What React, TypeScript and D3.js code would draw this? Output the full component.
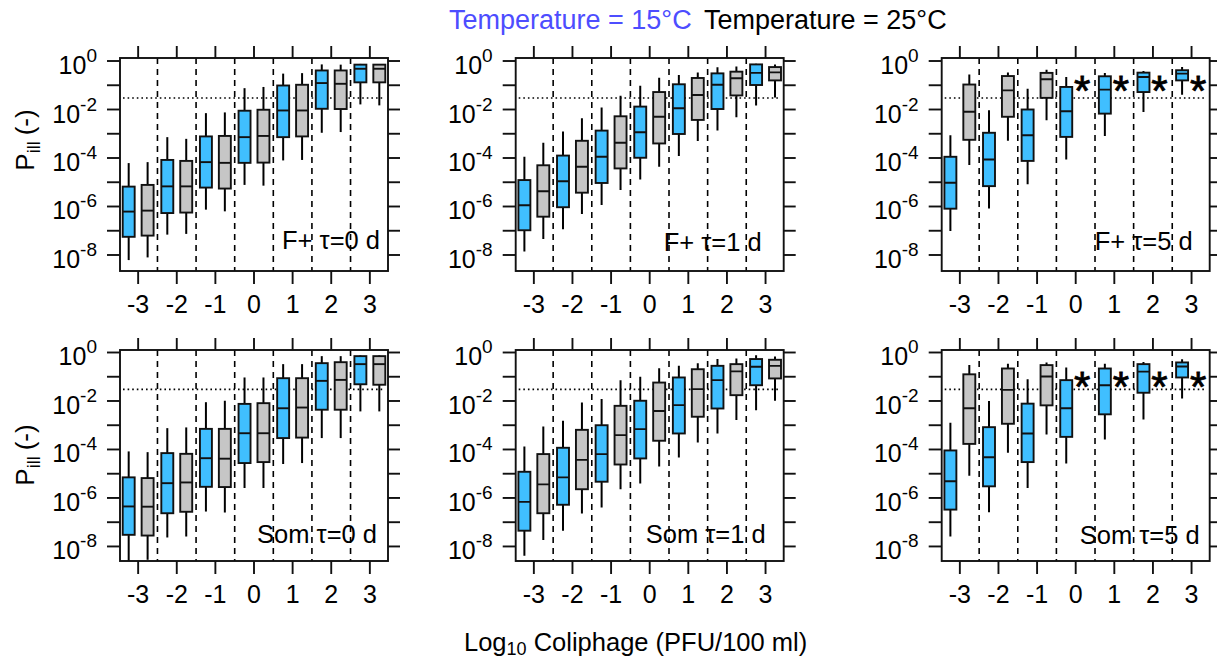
import React from "react";
import * as d3 from "d3";

// ---------------- DATA ----------------
const categories = [-3, -2, -1, 0, 1, 2, 3];
const headerLabels = ["Temperature = 15°C", "Temperature = 25°C"];
const panelTitles = ["F+ τ=0 d", "F+ τ=1 d", "F+ τ=5 d", "Som τ=0 d", "Som τ=1 d", "Som τ=5 d"];
const yTickExps = [0, -1, -2, -3, -4, -5, -6, -7, -8];
const yLabelExps = [0, -2, -4, -6, -8];
const riskThreshold = 0.03;

// Box stats per category (log10): [low whisker, Q1, median, Q3, high whisker]
const fp0_15 = [
  [-8.21, -7.25, -6.21, -5.18, -4.21], [-7.16, -6.27, -5.17, -4.08, -3.14], [-6.13, -5.22, -4.17, -3.11, -2.15],
  [-5.11, -4.2, -3.14, -2.05, -1.12], [-4.1, -3.14, -2.04, -1.01, -0.52], [-2.96, -1.97, -0.91, -0.39, -0.14],
  [-1.79, -0.88, -0.32, -0.15, -0.12],
];
const fp0_25 = [
  [-8.1, -7.2, -6.17, -5.11, -4.17], [-7.13, -6.25, -5.17, -4.12, -3.21], [-6.2, -5.26, -4.2, -3.09, -2.12],
  [-5.14, -4.19, -3.09, -2.01, -1.07], [-4.08, -3.11, -2.04, -0.98, -0.5], [-2.93, -1.98, -0.94, -0.39, -0.15],
  [-1.83, -0.88, -0.32, -0.15, -0.13],
];
const fp1_15 = [
  [-7.86, -6.98, -5.95, -4.91, -3.95], [-6.94, -6.03, -4.96, -3.9, -2.91], [-5.94, -5.03, -3.95, -2.87, -1.92],
  [-4.89, -3.99, -2.94, -1.88, -1.02], [-3.92, -3.01, -1.95, -0.96, -0.58], [-2.87, -1.98, -0.98, -0.51, -0.26],
  [-1.83, -0.99, -0.49, -0.14, -0.11],
];
const fp1_25 = [
  [-7.34, -6.42, -5.37, -4.3, -3.37], [-6.31, -5.43, -4.36, -3.29, -2.36], [-5.32, -4.43, -3.37, -2.28, -1.43],
  [-4.36, -3.4, -2.3, -1.28, -0.69], [-3.3, -2.43, -1.4, -0.7, -0.47], [-2.32, -1.42, -0.71, -0.44, -0.23],
  [-1.5, -0.8, -0.47, -0.25, -0.14],
];
const fp5_15 = [
  [-7.01, -6.09, -5.02, -3.95, -3.06], [-6.08, -5.16, -4.06, -2.96, -2.03], [-5.08, -4.12, -3.06, -2.0, -1.14],
  [-4.06, -3.13, -2.07, -1.07, -0.66], [-3.09, -2.17, -1.18, -0.63, -0.49], [-2.1, -1.28, -0.66, -0.48, -0.41],
  [-1.39, -0.8, -0.52, -0.38, -0.25],
];
const fp5_25 = [
  [-4.29, -3.25, -2.09, -0.97, -0.56], [-3.29, -2.3, -1.21, -0.62, -0.47], [-2.44, -1.52, -0.75, -0.49, -0.36],
  null, null, null, null,
];
const som0_15 = [
  [-8.9, -7.52, -6.35, -5.15, -4.08], [-7.63, -6.63, -5.39, -4.15, -3.12], [-6.56, -5.54, -4.36, -3.15, -2.05],
  [-5.59, -4.56, -3.33, -2.12, -1.03], [-4.6, -3.53, -2.3, -1.06, -0.48], [-3.53, -2.36, -1.17, -0.44, -0.15],
  [-2.43, -1.31, -0.48, -0.15, -0.12],
];
const som0_25 = [
  [-8.55, -7.55, -6.36, -5.18, -4.11], [-7.59, -6.57, -5.36, -4.18, -3.09], [-6.6, -5.55, -4.38, -3.15, -1.99],
  [-5.59, -4.52, -3.33, -2.09, -1.03], [-4.56, -3.51, -2.27, -1.06, -0.48], [-3.53, -2.36, -1.13, -0.4, -0.15],
  [-2.43, -1.33, -0.48, -0.15, -0.12],
];
const som1_15 = [
  [-8.38, -7.35, -6.16, -4.92, -3.88], [-7.35, -6.28, -5.15, -3.93, -2.82], [-6.39, -5.33, -4.19, -3.0, -1.92],
  [-5.4, -4.37, -3.16, -1.99, -1.0], [-4.33, -3.34, -2.17, -1.03, -0.55], [-3.34, -2.31, -1.14, -0.55, -0.27],
  [-2.38, -1.35, -0.59, -0.27, -0.11],
];
const som1_25 = [
  [-7.73, -6.63, -5.44, -4.19, -3.05], [-6.64, -5.64, -4.43, -3.19, -2.06], [-5.64, -4.62, -3.41, -2.2, -1.14],
  [-4.7, -3.64, -2.41, -1.24, -0.65], [-3.71, -2.65, -1.51, -0.69, -0.44], [-2.78, -1.76, -0.78, -0.48, -0.25],
  [-1.99, -1.07, -0.55, -0.3, -0.16],
];
const som5_15 = [
  [-7.59, -6.48, -5.31, -4.04, -2.9], [-6.59, -5.52, -4.32, -3.08, -2.0], [-5.59, -4.52, -3.34, -2.11, -1.1],
  [-4.58, -3.48, -2.3, -1.14, -0.62], [-3.59, -2.55, -1.35, -0.66, -0.46], [-2.76, -1.66, -0.79, -0.48, -0.39],
  [-1.9, -1.03, -0.58, -0.41, -0.28],
];
const som5_25 = [
  [-5.08, -3.77, -2.3, -0.9, -0.52], [-4.14, -2.94, -1.54, -0.66, -0.46], [-3.38, -2.18, -0.99, -0.52, -0.41],
  null, null, null, null,
];
// "*" marks where the 25°C box is absent (log10 level)
const starLevels = [null, null, -0.82, null, null, -1.02];

const panelSeries15 = [fp0_15, fp1_15, fp5_15, som0_15, som1_15, som5_15];
const panelSeries25 = [fp0_25, fp1_25, fp5_25, som0_25, som1_25, som5_25];

// ---------------- LAYOUT ----------------
const W = 1217;
const H = 661;
const colX = [120, 515.7, 941.7];
const panelW = 268;
const rowY = [58, 350];
const rowH = [213, 211];
const rowDomainExp = [
  [-8.66, 0.124],
  [-8.6, 0.103],
];
const titleEndOffset = [8, 22, 17, 11, 18, 10];
const titleBaseOffset = [22.5, 20.5, 21, 17.7, 17.7, 17];
const yTitleCenter = [140, 455];
const FONT = "'Liberation Sans', Arial, Helvetica, sans-serif";
const BLUE = "#40bfff";
const GRAY = "#c6c6c6";
const HEADER_BLUE = "#4d4dff";
const TICK = 12;

function Panel({ idx }: { idx: number }) {
  const col = idx % 3;
  const row = Math.floor(idx / 3);
  const x0 = colX[col];
  const x1 = x0 + panelW;
  const y0 = rowY[row];
  const y1 = y0 + rowH[row];
  const x = d3.scaleLinear().domain([-3.47, 3.47]).range([x0, x1]);
  const y = d3
    .scaleLog()
    .domain(rowDomainExp[row].map((e) => Math.pow(10, e)))
    .range([y1, y0]);
  const ye = (e: number) => y(Math.pow(10, e));
  const halfW = 0.155;
  const offset = 0.245;
  const clipId = `clip${idx}`;
  const s15 = panelSeries15[idx];
  const s25 = panelSeries25[idx];
  const star = starLevels[idx];

  const drawBox = (st: number[] | null, c: number, dx: number, fill: string, key: string) => {
    if (!st) return null;
    const cx = x(c + dx);
    const [lo, q1, md, q3, hi] = st;
    return (
      <g key={key}>
        <line x1={cx} x2={cx} y1={ye(lo)} y2={ye(hi)} stroke="#000" strokeWidth={2} />
        <rect
          x={x(c + dx - halfW)}
          width={x(c + dx + halfW) - x(c + dx - halfW)}
          y={ye(q3)}
          height={ye(q1) - ye(q3)}
          fill={fill}
          stroke="#111"
          strokeWidth={1.9}
        />
        <line
          x1={x(c + dx - halfW)}
          x2={x(c + dx + halfW)}
          y1={ye(md)}
          y2={ye(md)}
          stroke="#111"
          strokeWidth={1.9}
        />
      </g>
    );
  };

  return (
    <g>
      <defs>
        <clipPath id={clipId}>
          <rect x={x0} y={y0} width={x1 - x0} height={y1 - y0} />
        </clipPath>
      </defs>
      <g clipPath={`url(#${clipId})`}>
        {categories.slice(0, -1).map((c) => (
          <line
            key={`d${c}`}
            x1={x(c + 0.5)}
            x2={x(c + 0.5)}
            y1={y0}
            y2={y1}
            stroke="#000"
            strokeWidth={1.6}
            strokeDasharray="6,5"
          />
        ))}
        <line
          x1={x0 + 3}
          x2={x1 - 3}
          y1={y(riskThreshold)}
          y2={y(riskThreshold)}
          stroke="#000"
          strokeWidth={1.6}
          strokeDasharray="1.6,3"
        />
        {categories.map((c, i) => (
          <g key={`b${c}`}>
            {drawBox(s15[i], c, -offset, BLUE, "a")}
            {drawBox(s25[i], c, offset, GRAY, "b")}
          </g>
        ))}
      </g>
      {star !== null &&
        categories.map((c, i) =>
          s25[i] === null ? (
            <text
              key={`s${c}`}
              x={x(c + 0.17)}
              y={ye(star) + 24}
              textAnchor="middle"
              fontSize={42}
              fontFamily={FONT}
              stroke="#000"
              strokeWidth={0.8}
            >
              *
            </text>
          ) : null
        )}
      <rect x={x0} y={y0} width={x1 - x0} height={y1 - y0} fill="none" stroke="#111" strokeWidth={1.9} />
      {/* y ticks */}
      {yTickExps.map((e) => (
        <g key={`yt${e}`}>
          <line x1={x0 - TICK - 1} x2={x0} y1={ye(e)} y2={ye(e)} stroke="#111" strokeWidth={1.9} />
          <line x1={x1} x2={x1 + TICK} y1={ye(e)} y2={ye(e)} stroke="#111" strokeWidth={1.9} />
        </g>
      ))}
      {yLabelExps.map((e) => (
        <text
          key={`yl${e}`}
          x={x0 - 23}
          y={ye(e) + 13}
          textAnchor="end"
          fontSize={25}
          fontFamily={FONT}
          fill="#000"
        >
          10
          <tspan dy={-12} fontSize={19}>
            {e === 0 ? "0" : `-${-e}`}
          </tspan>
        </text>
      ))}
      {/* x ticks */}
      {categories.map((c) => (
        <g key={`xt${c}`}>
          <line x1={x(c)} x2={x(c)} y1={y1} y2={y1 + TICK + 1} stroke="#111" strokeWidth={1.9} />
          <line x1={x(c)} x2={x(c)} y1={y0 - TICK} y2={y0} stroke="#111" strokeWidth={1.9} />
          <text x={x(c)} y={y1 + 42} textAnchor="middle" fontSize={25} fontFamily={FONT}>
            {c < 0 ? `-${-c}` : `${c}`}
          </text>
        </g>
      ))}
      <text
        x={x1 - titleEndOffset[idx]}
        y={y1 - titleBaseOffset[idx]}
        textAnchor="end"
        fontSize={25.5}
        fontFamily={FONT}
      >
        {panelTitles[idx]}
      </text>
    </g>
  );
}

export default function App() {
  return (
    <svg
      width={W}
      height={H}
      viewBox={`0 0 ${W} ${H}`}
      style={{ position: "absolute", left: 0, top: 0, background: "#fff" }}
    >
      <rect x={0} y={0} width={W} height={H} fill="#fff" />
      <text x={449} y={29} fontSize={27} fontFamily={FONT} fill={HEADER_BLUE}>
        {headerLabels[0]}
      </text>
      <text x={704} y={29} fontSize={27} fontFamily={FONT} fill="#000">
        {headerLabels[1]}
      </text>
      {[0, 1, 2, 3, 4, 5].map((i) => (
        <Panel key={i} idx={i} />
      ))}
      {rowY.map((_, r) => (
        <text
          key={`ytt${r}`}
          transform={`translate(34, ${yTitleCenter[r]}) rotate(-90)`}
          textAnchor="middle"
          fontSize={26}
          fontFamily={FONT}
        >
          P
          <tspan dy={6} fontSize={18}>
            ill
          </tspan>
          <tspan dy={-6} dx={6}>
            (-)
          </tspan>
        </text>
      ))}
      <text x={464} y={651} fontSize={25.5} fontFamily={FONT}>
        Log
        <tspan dy={4} fontSize={18}>
          10
        </tspan>
        <tspan dy={-4}> Coliphage (PFU/100 ml)</tspan>
      </text>
    </svg>
  );
}
